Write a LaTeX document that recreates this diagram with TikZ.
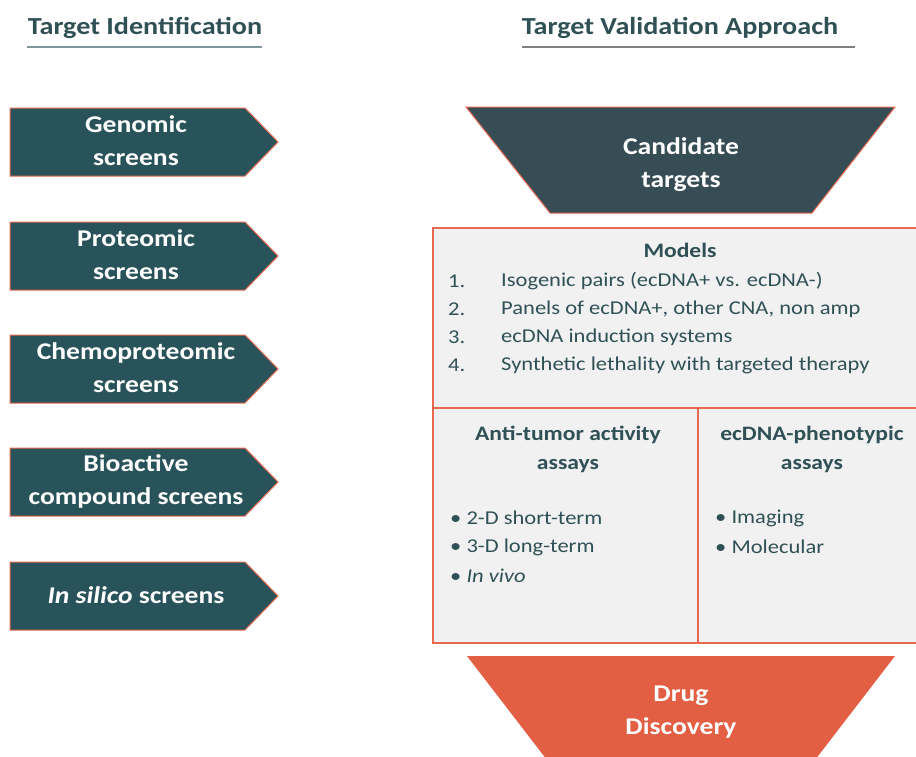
\documentclass[tikz,border=0pt]{standalone}
\usepackage{fontspec}
\setmainfont[FakeStretch=1.15]{Carlito}
\usetikzlibrary{calc}
\definecolor{tealdark}{HTML}{29535A}
\definecolor{slate}{HTML}{364D56}
\definecolor{coral}{HTML}{E8694E}
\definecolor{drugred}{HTML}{E35F44}
\definecolor{panel}{HTML}{F1F1F1}
\definecolor{ink}{HTML}{2F5156}
\definecolor{rulegray}{HTML}{7E9599}

\tikzset{
  head/.style={font=\fontsize{24.5}{28}\selectfont\bfseries, text=ink},
  screen/.style={fill=tealdark, draw=coral, line width=1pt},
  screentxt/.style={font=\fontsize{24}{33}\selectfont\bfseries, text=white, align=center},
  boxtitle/.style={font=\fontsize{20.5}{29}\selectfont\bfseries, text=ink, align=center},
  item/.style={font=\fontsize{19.6}{24}\selectfont, text=ink, anchor=west, inner sep=0pt},
}

\begin{document}
\begin{tikzpicture}[x=1pt,y=-1pt]
\useasboundingbox (0,0) rectangle (916,756);
% headings
\node[head] (ti) at (145,28) {Target Identification};
\draw[line width=1.5pt, rulegray] (27,47) -- (262,47);
\node[head] (tv) at (680,28) {Target Validation Approach};
\draw[line width=1.5pt, gray] (522,47) -- (855,47);

% screens on the left
\foreach \y/\n/\txt in {108/gen/{Genomic\\screens}, 222/pro/{Proteomic\\screens},
    335/chem/{Chemoproteomic\\screens}, 448/bio/{Bioactive\\compound screens},
    562/sil/{\textit{In silico} screens}} {
  \draw[screen] (10,\y) -- (245,\y) -- (278,\y+34) -- (245,\y+68) -- (10,\y+68) -- cycle;
  \node[screentxt] (\n) at (136,\y+33) {\txt};
}

% candidate funnel
\coordinate (c1) at (466,107);
\coordinate (c2) at (895,107);
\coordinate (c3) at (812,213);
\coordinate (c4) at (550,213);
\draw[fill=slate, draw=coral, line width=1pt] (c1) -- (c2) -- (c3) -- (c4) -- cycle;
\node[screentxt] (cand) at (681,165) {Candidate\\targets};

% models and assays
\draw[fill=panel, draw=coral, line width=1.5pt] (433,228) rectangle (917,643);
\draw[coral, line width=1.5pt] (433,408) -- (917,408);
\draw[coral, line width=1.5pt] (698,408) -- (698,643);

\node[boxtitle] (mod) at (680,250) {Models};
\foreach \i/\txt in {1/{Isogenic pairs (ecDNA+ vs. ecDNA-)}, 2/{Panels of ecDNA+, other CNA, non amp},
    3/{ecDNA induction systems}, 4/{Synthetic lethality with targeted therapy}} {
  \node[item] (num\i) at (448,{281+28*(\i-1)}) {\i.};
  \node[item] (mtxt\i) at (501,{281+28*(\i-1)}) {\txt};
}

\node[boxtitle] (anti) at (568,449) {Anti-tumor activity\\assays};
\node[boxtitle] (phen) at (812,449) {ecDNA-phenotypic\\assays};
\foreach \i/\txt in {1/{2-D short-term}, 2/{3-D long-term}, 3/{\textit{In vivo}}} {
  \node[item] (ab\i) at (450,{518+29*(\i-1)}) {\textbullet\ \txt};
}
\foreach \i/\txt in {1/{Imaging}, 2/{Molecular}} {
  \node[item] (pb\i) at (715,{518+29*(\i-1)}) {\textbullet\ \txt};
}

% drug discovery funnel
\coordinate (d1) at (467,656);
\coordinate (d2) at (895,656);
\coordinate (d3) at (815,760);
\coordinate (d4) at (547,760);
\fill[drugred] (d1) -- (d2) -- (d3) -- (d4) -- cycle;
\node[screentxt] (drug) at (681,712) {Drug\\Discovery};
\end{tikzpicture}
\end{document}
